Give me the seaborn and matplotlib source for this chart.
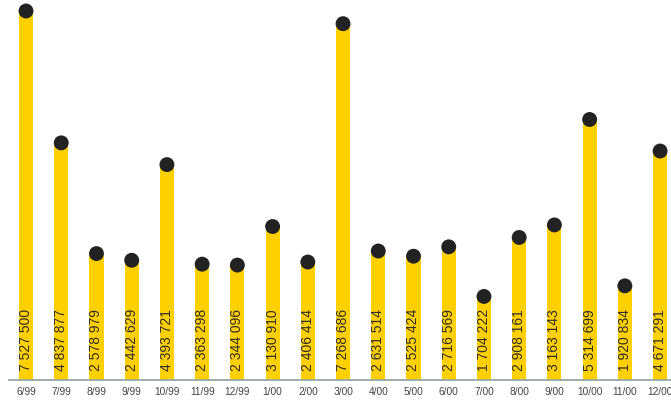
import matplotlib
matplotlib.use("Agg")
import matplotlib.pyplot as plt
import seaborn as sns
import pandas as pd

months = ["6/99", "7/99", "8/99", "9/99", "10/99", "11/99", "12/99", "1/00", "2/00",
          "3/00", "4/00", "5/00", "6/00", "7/00", "8/00", "9/00", "10/00", "11/00", "12/00"]
values = [7527500, 4837877, 2578979, 2442629, 4393721, 2363298, 2344096, 3130910, 2406414,
          7268686, 2631514, 2525424, 2716569, 1704222, 2908161, 3163143, 5314699, 1920834, 4671291]

sns.set_style("white")
plt.rcParams['font.family'] = ['Liberation Sans', 'DejaVu Sans']

df = pd.DataFrame({"month": months, "value": values})

fig = plt.figure(figsize=(6.71, 4.01), dpi=100)
ax = fig.add_axes([9/671, 21/401, (671-9)/671, 380/401])

sns.barplot(data=df, x="month", y="value", color="#FFD000", saturation=1,
            width=0.4, ax=ax, edgecolor="none")
sns.scatterplot(x=list(range(len(values))), y=values, color="#222222", s=115,
                edgecolor="none", ax=ax, clip_on=False, zorder=5)

for i, v in enumerate(values):
    lab = f"{v:,}".replace(",", " ")
    ax.annotate(lab, (i, 0), xytext=(0, 6.5), textcoords="offset points",
                rotation=90, ha="center", va="bottom", fontsize=10, color="#2e2e2e")

ax.set_xlim(-0.483, 18.31)
ax.set_ylim(0, 7752000)
ax.set_xlabel("")
ax.set_ylabel("")
ax.set_yticks([])
for s in ["top", "right", "left"]:
    ax.spines[s].set_visible(False)
ax.spines["bottom"].set_color("#9aa6a6")
ax.spines["bottom"].set_linewidth(1.3)
ax.tick_params(axis="x", length=0, pad=5, labelsize=7.3, labelcolor="#444444")

fig.savefig("out.png", dpi=100)
